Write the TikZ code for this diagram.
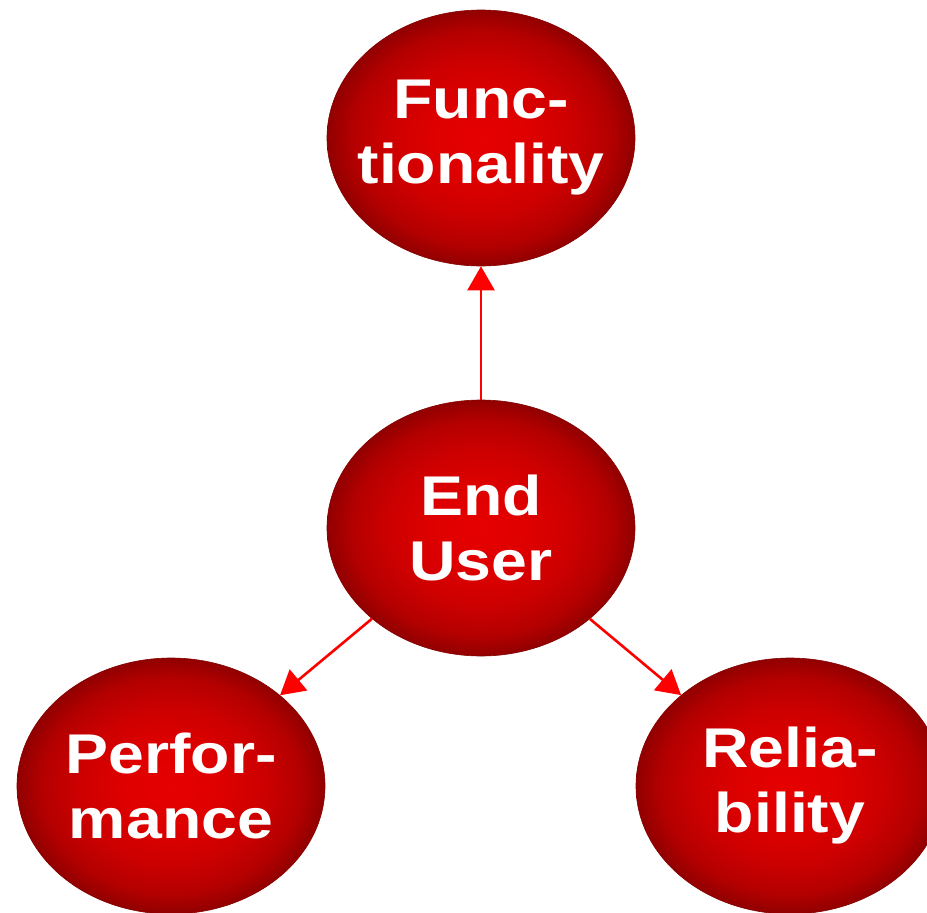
\documentclass[tikz,border=0pt]{standalone}
\usepackage{fontspec}
\setmainfont{Liberation Sans}[FakeStretch=1.15]
\usetikzlibrary{arrows.meta,shapes.geometric}
\definecolor{ballout}{HTML}{850000}
\definecolor{arrowred}{HTML}{FF0000}
\pgfdeclareradialshading{redball}{\pgfpointorigin}{%
  color(0bp)=(rgb,255:red,230;green,0;blue,0);
  color(8bp)=(rgb,255:red,222;green,0;blue,0);
  color(15bp)=(rgb,255:red,205;green,0;blue,0);
  color(21bp)=(rgb,255:red,180;green,0;blue,0);
  color(25bp)=(rgb,255:red,145;green,0;blue,0);
  color(50bp)=(rgb,255:red,145;green,0;blue,0)}
\begin{document}
\begin{tikzpicture}[x=1pt,y=-1pt,
  ball/.style={ellipse, minimum width=308pt, minimum height=256pt, inner sep=0pt,
    shading=redball, draw=ballout, line width=0.6pt},
  lbl/.style={inner sep=0pt, text=white, font=\fontsize{56}{65}\selectfont\bfseries, align=center},
  link/.style={draw=arrowred, line width=2.6pt, -{Triangle[length=24pt,width=27pt]}}]
\useasboundingbox (0,0) rectangle (927,913);
\node[ball] (func) at (481,138) {};
\node[ball] (eu) at (481,528) {};
\node[ball] (perf) at (171,786) {};
\node[ball] (rel) at (790,786) {};
\node[lbl] (funct) at (func) {Func-\\tionality};
\node[lbl] (eut) at (eu) {End\\User};
\node[lbl] (perft) at (perf) {Perfor-\\mance};
\node[lbl] (relt) at (rel) {Relia-\\bility};
\draw[link] (eu) -- (func);
\draw[link] (eu) -- (perf);
\draw[link] (eu) -- (rel);
\end{tikzpicture}
\end{document}
